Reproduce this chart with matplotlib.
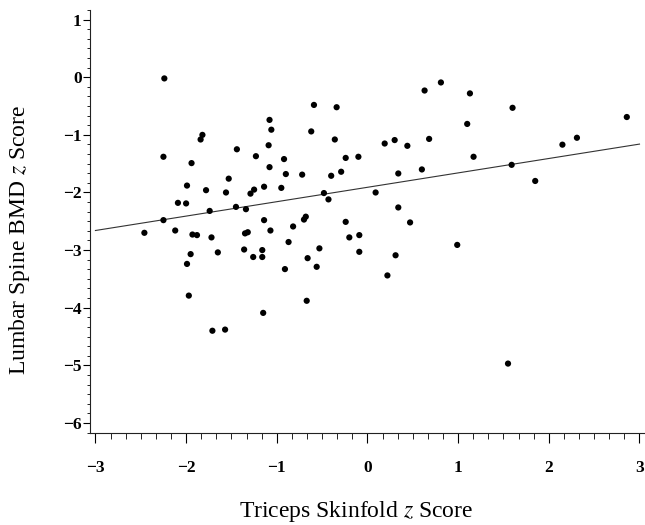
import numpy as np
import matplotlib
matplotlib.use("Agg")
import matplotlib.pyplot as plt
from matplotlib.ticker import MultipleLocator

plt.rcParams['font.family'] = ['Liberation Serif', 'DejaVu Serif']
plt.rcParams['mathtext.fontset'] = 'stix'
plt.rcParams['axes.unicode_minus'] = True

# triceps skinfold z score
tsf = [-2.24, -1.82, -1.84, -1.44, -1.23, -2.25, -1.94, -1.53, -1.99, -1.78,
       -1.56, -1.25, -1.29, -2.09, -2.00, -1.45, -1.74, -1.34, -1.14, -0.95,
       -0.59, -0.34, -1.08, -1.06, -0.62, -0.36, -1.09, -0.92, -0.24, -0.10,
       -1.08, -0.90, -0.72, -0.29, -0.40, -0.48, -0.43, 0.09, 0.63, 0.81,
       1.13, 1.10, 0.19, 0.30, 0.44, 0.68, 1.17, 0.34, 0.60, 1.60,
       2.86, 2.15, 2.31, 1.59, 1.85, 1.55, -2.25, -2.46, -2.12, -1.93,
       -1.88, -1.72, -1.35, -1.32, -1.95, -1.99, -1.65, -1.36, -1.26, -1.97,
       -1.71, -1.57, -1.14, -1.07, -0.82, -0.68, -0.70, -0.24, -0.20, -0.09,
       -0.87, -1.16, -1.16, -0.53, -0.66, -0.56, -0.09, -0.91, -0.67, -1.15,
       0.34, 0.47, 0.99, 0.31, 0.22]

# lumbar spine BMD z score
bmd = [-0.02, -1.00, -1.08, -1.25, -1.37, -1.38, -1.49, -1.76, -1.88, -1.96,
       -2.00, -1.95, -2.02, -2.18, -2.19, -2.25, -2.32, -2.29, -1.90, -1.92,
       -0.48, -0.52, -0.74, -0.91, -0.94, -1.08, -1.18, -1.42, -1.40, -1.38,
       -1.56, -1.68, -1.69, -1.64, -1.71, -2.01, -2.12, -2.00, -0.23, -0.09,
       -0.28, -0.81, -1.15, -1.09, -1.19, -1.07, -1.38, -1.67, -1.60, -0.53,
       -0.69, -1.17, -1.05, -1.52, -1.80, -4.97, -2.48, -2.70, -2.66, -2.73,
       -2.74, -2.78, -2.71, -2.69, -3.07, -3.24, -3.04, -2.99, -3.12, -3.79,
       -4.40, -4.38, -2.48, -2.66, -2.59, -2.42, -2.47, -2.51, -2.78, -2.74,
       -2.86, -3.00, -3.12, -2.97, -3.14, -3.29, -3.03, -3.33, -3.88, -4.09,
       -2.26, -2.52, -2.91, -3.09, -3.44]

# fitted line
fit_x = [-3.0, 3.0]
fit_y = [-2.66, -1.16]

fig = plt.figure(figsize=(6.45, 5.25), dpi=100)
ax = fig.add_axes([0.1395, 0.1747, 0.859, 0.8065])

ax.scatter(tsf, bmd, s=20, c='black', edgecolors='none', zorder=3)
ax.plot(fit_x, fit_y, color='#333333', lw=0.8, zorder=2)

ax.set_xlim(-3.06, 3.05)
ax.set_ylim(-6.18, 1.17)

for s in ['top', 'right']:
    ax.spines[s].set_visible(False)
for s in ['left', 'bottom']:
    ax.spines[s].set_linewidth(0.8)
    ax.spines[s].set_color('#222222')

ax.xaxis.set_major_locator(MultipleLocator(1))
ax.xaxis.set_minor_locator(MultipleLocator(1 / 6))
ax.yaxis.set_major_locator(MultipleLocator(1))
ax.yaxis.set_minor_locator(MultipleLocator(1 / 6))

ax.tick_params(axis='x', which='major', direction='out', length=7, width=0.8, pad=12, labelsize=12.5)
ax.tick_params(axis='x', which='minor', direction='out', length=4, width=0.6)
ax.tick_params(axis='y', which='major', direction='out', length=5, width=0.8, pad=1, labelsize=12.5)
ax.tick_params(axis='y', which='minor', direction='out', length=2.5, width=0.6)
for lab in ax.get_xticklabels() + ax.get_yticklabels():
    lab.set_fontweight('bold')

ax.set_xlabel(r"Triceps Skinfold $z$ Score", fontsize=17)
ax.set_ylabel(r"Lumbar Spine BMD $z$ Score", fontsize=17)
ax.xaxis.set_label_coords(0.48, -0.155)
ax.yaxis.set_label_coords(-0.105, 0.456)

fig.savefig("out.png", dpi=100)
